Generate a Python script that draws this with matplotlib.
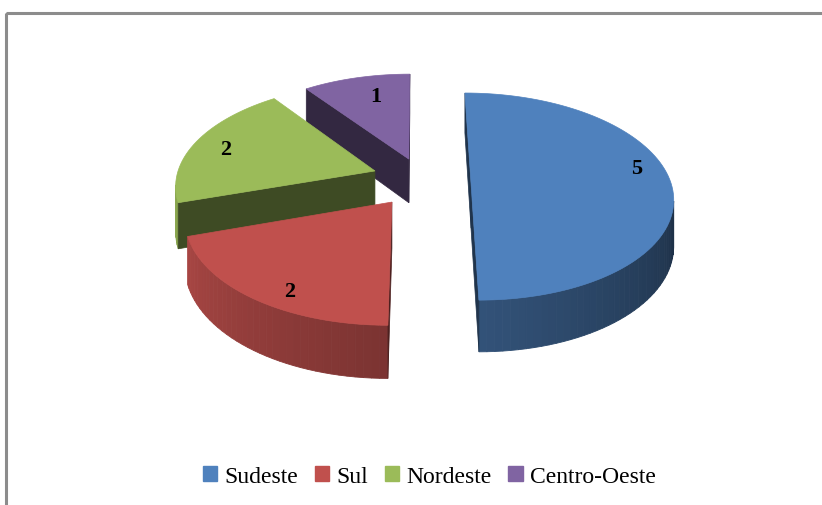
import numpy as np
import matplotlib.pyplot as plt
from matplotlib.patches import Polygon, Rectangle, Patch
from matplotlib.colors import to_rgb

plt.rcParams["font.family"] = "serif"
plt.rcParams["font.serif"] = ["Liberation Serif", "DejaVu Serif"]

categories = ["Sudeste", "Sul", "Nordeste", "Centro-Oeste"]
values = [5, 2, 2, 1]
colors = ["#4F81BD", "#C0504D", "#9BBB59", "#8064A2"]

# how far each slice is pulled out (pie radius units) and in which direction
explode = [0.265, 0.222, 0.25, 0.248]
explode_dir = [0, 235, 151, 101]
label_r = [0.86, 0.87, 0.82, 0.74]
label_rot = [10, 6, 2, -3]

# simple perspective for the tilted pie (pixel units)
X0, Y0 = 418, 184.1
A, B, H, P = 200, 101.8, 45, 0.13


def proj(x, y, z):
    w = 1 + P * y
    return X0 + A * x / w, Y0 - (B * y + H * z) / w


def shade(c, f):
    return tuple(np.clip(np.array(to_rgb(c)) * f, 0, 1))


def wall_factor(a):
    a = a % 360
    if a < 90:
        a += 360
    return float(np.clip(0.64 - 0.0033 * (a - 270), 0.36, 0.9))


def signed_area(pts):
    x = np.array([p[0] for p in pts])
    y = np.array([p[1] for p in pts])
    return np.sum(x * np.roll(y, -1) - np.roll(x, -1) * y)


fig = plt.figure(figsize=(8.22, 5.06), dpi=100)
ax = fig.add_axes([0, 0, 1, 1])
ax.set_xlim(0, 822)
ax.set_ylim(506, 0)
ax.axis("off")

total = sum(values)
slices = []
cum = 0
for i, v in enumerate(values):
    end = 90 - cum * 360 / total
    start = end - v * 360 / total
    cum += v
    d = np.radians(explode_dir[i])
    ox, oy = explode[i] * np.cos(d), explode[i] * np.sin(d)
    slices.append((i, start, end, ox, oy))

# back to front
slices.sort(key=lambda s: -s[4])

for i, start, end, ox, oy in slices:
    n = max(int((end - start) / 2), 8)
    ang = np.linspace(start, end, n + 1)
    rim = [(ox + np.cos(np.radians(a)), oy + np.sin(np.radians(a))) for a in ang]

    # curved outer wall
    for k in range(n):
        (x1, y1), (x2, y2) = rim[k], rim[k + 1]
        quad = [proj(x1, y1, 0), proj(x2, y2, 0), proj(x2, y2, -1), proj(x1, y1, -1)]
        if signed_area(quad) > 0:
            c = shade(colors[i], wall_factor((ang[k] + ang[k + 1]) / 2))
            ax.add_patch(Polygon(quad, closed=True, fc=c, ec=c, lw=0.6))

    # flat cut faces
    for p1, p2 in [((ox, oy), rim[0]), (rim[-1], (ox, oy))]:
        quad = [proj(p1[0], p1[1], 0), proj(p2[0], p2[1], 0),
                proj(p2[0], p2[1], -1), proj(p1[0], p1[1], -1)]
        if signed_area(quad) > 0:
            c = shade(colors[i], 0.4)
            ax.add_patch(Polygon(quad, closed=True, fc=c, ec=c, lw=0.5))

    # top face
    top = [proj(ox, oy, 0)] + [proj(x, y, 0) for x, y in rim]
    ax.add_patch(Polygon(top, closed=True, fc=colors[i], ec=colors[i], lw=0.5))

    # value label
    mid = np.radians((start + end) / 2 + label_rot[i])
    lx, ly = proj(ox + label_r[i] * np.cos(mid), oy + label_r[i] * np.sin(mid), 0)
    ax.text(lx, ly, str(values[i]), ha="center", va="center", fontsize=16,
            fontweight="bold", color="black")

# chart frame
ax.add_patch(Rectangle((6, 14), 830, 500, fill=False, ec="#8c8c8c", lw=2.2,
                       clip_on=False))

handles = [Patch(fc=c, ec=c) for c in colors]
ax.legend(handles, categories, loc="center", bbox_to_anchor=(0.522, 0.057),
          ncol=4, frameon=False, handlelength=0.62, handleheight=0.62,
          handletextpad=0.3, columnspacing=0.7, fontsize=17)

fig.savefig("out.png", dpi=100)
